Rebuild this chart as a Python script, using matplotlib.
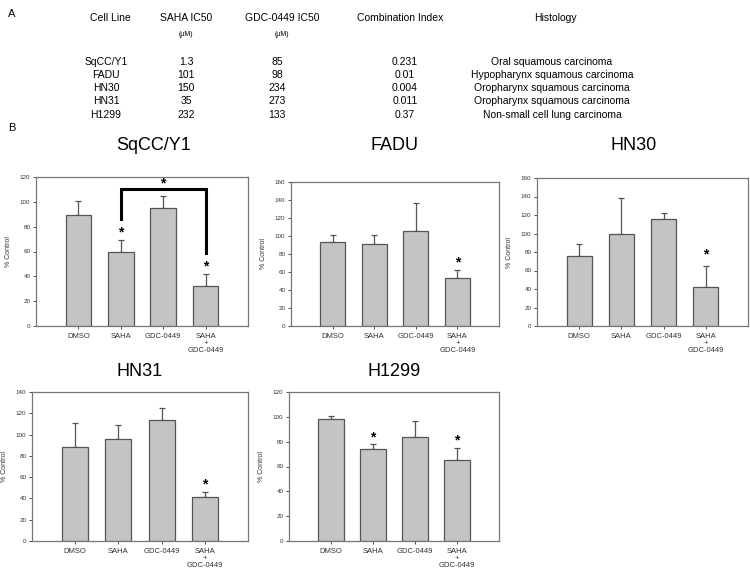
import matplotlib
matplotlib.use("Agg")
import matplotlib.pyplot as plt

plt.rcParams['font.family'] = ['Liberation Sans', 'DejaVu Sans']

# ---- Table data (panel A) ----
table_headers = ["Cell Line", "SAHA IC50", "GDC-0449 IC50", "Combination Index", "Histology"]
cell_lines = ["SqCC/Y1", "FADU", "HN30", "HN31", "H1299"]
saha_ic50 = ["1.3", "101", "150", "35", "232"]
gdc_ic50 = ["85", "98", "234", "273", "133"]
comb_index = ["0.231", "0.01", "0.004", "0.011", "0.37"]
histology = ["Oral squamous carcinoma", "Hypopharynx squamous carcinoma",
             "Oropharynx squamous carcinoma", "Oropharynx squamous carcinoma",
             "Non-small cell lung carcinoma"]

# ---- Bar data (panel B) ----
treatments = ["DMSO", "SAHA", "GDC-0449", "SAHA\n+\nGDC-0449"]

sqcc_mean = [89, 60, 95, 32]
sqcc_err = [12, 9, 10, 10]
fadu_mean = [93, 91, 106, 53]
fadu_err = [8, 10, 31, 9]
hn30_mean = [76, 100, 116, 42]
hn30_err = [13, 38, 6, 23]
hn31_mean = [88, 96, 114, 41]
hn31_err = [23, 13, 11, 5]
h1299_mean = [98.5, 74, 83.5, 65]
h1299_err = [2.5, 4, 13.5, 10]

# star annotations: (bar index, y)
sqcc_stars = [(1, 75), (3, 48)]
fadu_stars = [(3, 71)]
hn30_stars = [(3, 77)]
hn31_stars = [(3, 53)]
h1299_stars = [(1, 83), (3, 81)]

W, H = 750, 572
fig = plt.figure(figsize=(W / 100, H / 100), dpi=100)


def px_axes(left, top, right, bottom):
    return fig.add_axes([left / W, 1 - bottom / H, (right - left) / W, (bottom - top) / H])


def ftext(x, y, s, **kw):
    fig.text(x / W, 1 - y / H, s, **kw)


# Panel A
ftext(8, 14, "A", fontsize=8, ha="left", va="center")
ftext(8, 128, "B", fontsize=8, ha="left", va="center")
hdr_x = [110, 186, 282, 400, 555]
for x, h in zip(hdr_x, table_headers):
    ftext(x, 18, h, fontsize=7.5, ha="center", va="center")
ftext(hdr_x[1], 35, "(\u03bcM)", fontsize=5, ha="center", va="center")
ftext(hdr_x[2], 35, "(\u03bcM)", fontsize=5, ha="center", va="center")
row_y = [62, 75, 88, 101, 115]
col_x = [106, 186, 277, 405, 552]
for i, y in enumerate(row_y):
    for x, col in zip(col_x, [cell_lines, saha_ic50, gdc_ic50, comb_index, histology]):
        ftext(x, y, col[i], fontsize=7.5, ha="center", va="center")

panels = [
    ("SqCC/Y1", sqcc_mean, sqcc_err, sqcc_stars, (36, 177, 248, 326), 120, 145, 154),
    ("FADU", fadu_mean, fadu_err, fadu_stars, (291, 182, 499, 326), 160, 145, None),
    ("HN30", hn30_mean, hn30_err, hn30_stars, (537, 178, 748, 326), 160, 145, 634),
    ("HN31", hn31_mean, hn31_err, hn31_stars, (32, 392, 248, 541), 140, 372, None),
    ("H1299", h1299_mean, h1299_err, h1299_stars, (289, 392, 499, 541), 120, 372, None),
]

edge = "#555555"
for title, mean, err, stars, (l, t, r, b), ymax, ty, tx in panels:
    ax = px_axes(l, t, r, b)
    xs = list(range(1, len(mean) + 1))
    ax.bar(xs, mean, width=0.6, color="#c4c4c4", edgecolor=edge, linewidth=0.9, zorder=2)
    ax.errorbar(xs, mean, yerr=[[0] * len(err), err], fmt="none", ecolor=edge,
                elinewidth=0.9, capsize=2.5, capthick=0.9, zorder=1)
    ax.set_xlim(0, 5)
    ax.set_ylim(0, ymax)
    ax.set_yticks(range(0, ymax + 1, 20))
    ax.set_xticks(xs)
    ax.set_xticklabels(treatments, fontsize=5.5, linespacing=1.0)
    ax.tick_params(axis="y", labelsize=4.5, length=2, width=0.6, colors="#333333", pad=2)
    ax.tick_params(axis="x", length=2, width=0.6, colors="#333333", pad=3)
    ax.set_ylabel("% Control", fontsize=5, labelpad=6, color="#333333")
    for s in ax.spines.values():
        s.set_color("#777777")
        s.set_linewidth(0.9)
    for bi, sy in stars:
        ax.text(xs[bi], sy, "*", fontsize=10, ha="center", va="center", fontweight="bold")
    ftext(tx if tx is not None else (l + r) / 2, ty, title, fontsize=13, ha="center", va="center")
    if title == "SqCC/Y1":
        ax.plot([2, 2, 4, 4], [86, 110, 110, 59], color="black", linewidth=2.2,
                solid_joinstyle="miter", zorder=3)
        ax.text(3, 115, "*", fontsize=10, ha="center", va="center", fontweight="bold")

fig.savefig("out.png", dpi=100)
